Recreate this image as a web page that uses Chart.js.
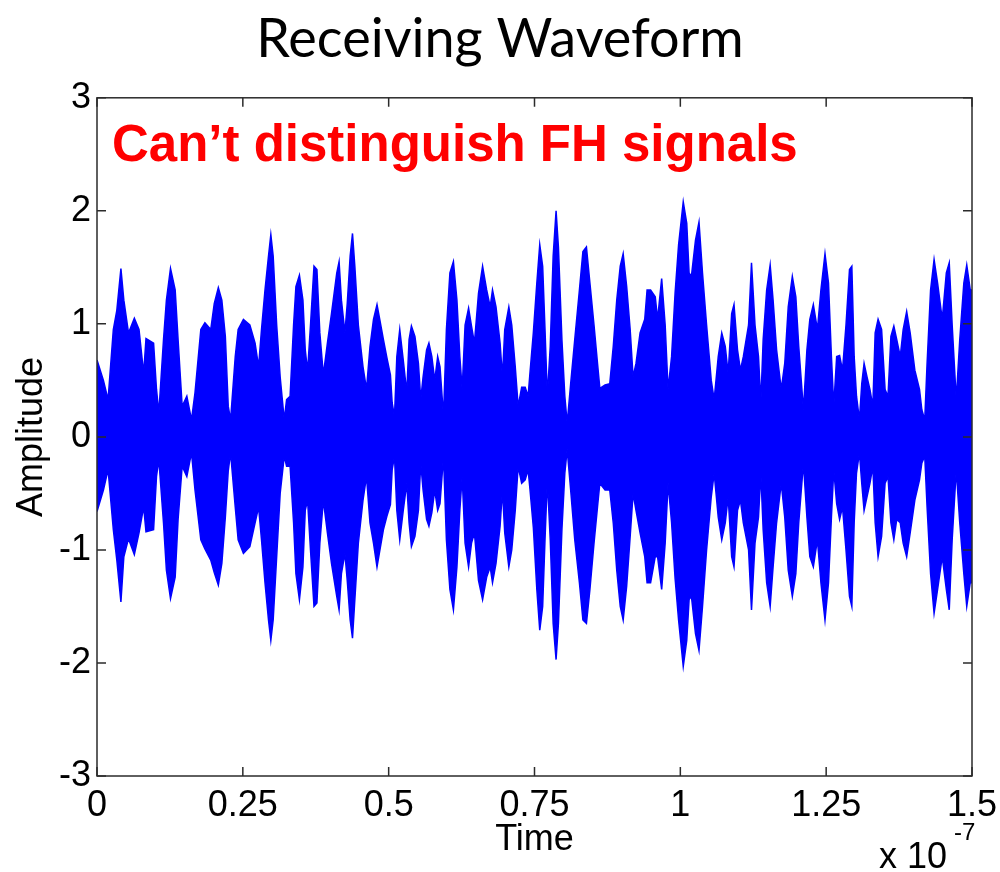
<!DOCTYPE html>
<html>
<head>
<meta charset="utf-8">
<title>Receiving Waveform</title>
<script src="https://cdn.jsdelivr.net/npm/chart.js@4/dist/chart.umd.min.js"></script>
<style>
  html, body { margin: 0; padding: 0; background: #fff; }
  canvas { display: block; }
</style>
</head>
<body>
<canvas id="wave" width="1000" height="872"></canvas>
<script>
// Time samples, in units of 1e-7 s
const timeE7 = [
  0.000,0.011,0.019,0.028,0.034,0.041,0.046,0.054,0.064,0.072,
  0.080,0.084,0.097,0.102,0.106,0.114,0.119,0.126,0.134,0.139,
  0.146,0.154,0.162,0.168,0.178,0.185,0.195,0.201,0.208,0.214,
  0.220,0.225,0.229,0.237,0.242,0.251,0.262,0.271,0.277,0.282,
  0.288,0.294,0.298,0.302,0.308,0.314,0.321,0.325,0.331,0.337,
  0.341,0.347,0.353,0.357,0.361,0.366,0.372,0.377,0.382,0.388,
  0.395,0.402,0.411,0.415,0.419,0.425,0.429,0.434,0.438,0.442,
  0.448,0.456,0.462,0.468,0.474,0.480,0.485,0.491,0.497,0.503,
  0.506,0.510,0.514,0.519,0.525,0.531,0.535,0.539,0.545,0.551,
  0.555,0.559,0.565,0.569,0.574,0.579,0.584,0.588,0.594,0.599,
  0.605,0.611,0.617,0.622,0.626,0.631,0.637,0.642,0.647,0.654,
  0.661,0.668,0.674,0.678,0.684,0.691,0.695,0.699,0.706,0.711,
  0.717,0.722,0.728,0.734,0.739,0.742,0.748,0.754,0.759,0.764,
  0.768,0.772,0.777,0.782,0.787,0.791,0.797,0.802,0.806,0.812,
  0.819,0.827,0.833,0.839,0.845,0.852,0.858,0.862,0.871,0.879,
  0.885,0.891,0.897,0.902,0.908,0.914,0.919,0.924,0.931,0.939,
  0.943,0.949,0.957,0.961,0.968,0.974,0.979,0.985,0.991,0.997,
  1.005,1.011,1.015,1.019,1.026,1.032,1.038,1.045,1.053,1.058,
  1.065,1.071,1.077,1.082,1.088,1.092,1.098,1.103,1.108,1.117,
  1.122,1.128,1.134,1.138,1.142,1.148,1.154,1.159,1.165,1.173,
  1.179,1.185,1.192,1.198,1.203,1.211,1.217,1.222,1.228,1.235,
  1.241,1.248,1.254,1.259,1.263,1.268,1.273,1.278,1.284,1.290,
  1.294,1.298,1.302,1.307,1.311,1.315,1.320,1.325,1.330,1.334,
  1.339,1.345,1.351,1.356,1.361,1.366,1.371,1.377,1.382,1.388,
  1.394,1.402,1.410,1.414,1.419,1.423,1.429,1.435,1.441,1.449,
  1.456,1.461,1.466,1.473,1.479,1.486,1.491,1.497,1.500
];

// Positive peaks of the received signal at each sample
const upperPeak = [
  0.68,0.50,0.33,0.95,1.12,1.49,1.21,0.92,1.05,0.95,
  0.56,0.87,0.83,0.42,0.21,0.86,1.21,1.49,1.30,0.86,
  0.27,0.36,0.15,0.39,0.95,1.01,0.95,1.18,1.32,1.21,
  0.89,0.27,0.15,0.71,0.95,1.04,0.99,0.83,0.62,0.95,
  1.30,1.60,1.79,1.60,0.99,0.53,0.15,0.33,0.36,0.99,
  1.33,1.43,1.21,0.77,0.58,0.99,1.51,1.48,0.92,0.55,
  0.83,1.09,1.45,1.55,1.21,0.92,1.18,1.60,1.80,1.51,
  0.99,0.62,0.42,0.80,1.04,1.17,1.03,0.86,0.70,0.55,
  0.30,0.18,0.71,0.95,0.68,0.39,0.86,0.98,0.89,0.65,
  0.33,0.53,0.77,0.83,0.71,0.50,0.71,0.62,0.18,0.95,
  1.45,1.55,1.21,0.71,0.42,0.99,1.14,0.98,0.83,1.27,
  1.51,1.30,1.15,1.30,1.15,0.83,0.53,0.95,1.15,0.99,
  0.62,0.27,0.44,0.44,0.36,0.55,0.92,1.36,1.70,1.51,
  0.95,0.36,0.80,1.60,2.00,1.68,0.86,0.36,0.12,0.47,
  0.86,1.30,1.64,1.68,1.36,0.99,0.65,0.43,0.46,0.47,
  0.80,1.21,1.51,1.62,1.33,0.95,0.53,0.65,0.92,1.04,
  1.30,1.30,1.24,1.04,1.40,0.99,0.42,0.71,1.27,1.70,
  2.08,1.89,1.45,1.42,1.74,1.90,1.45,0.99,0.50,0.33,
  0.71,0.92,0.80,0.56,1.09,1.17,0.77,0.59,0.71,0.99,
  1.54,0.99,0.71,0.30,0.86,1.30,1.52,1.21,0.77,0.42,
  0.65,1.15,1.42,1.24,0.80,0.24,0.77,1.04,1.17,0.95,
  1.30,1.62,1.36,0.71,0.27,0.71,0.72,0.59,0.99,1.48,
  1.51,0.71,0.36,0.15,0.47,0.65,0.53,0.42,0.27,0.92,
  1.04,0.95,0.42,0.36,0.89,0.98,0.86,0.71,0.95,1.11,
  0.92,0.59,0.42,0.24,0.15,0.65,1.30,1.57,1.36,1.04,
  1.45,1.54,0.99,0.33,0.86,1.36,1.52,1.30,1.30
];

// Negative peaks of the received signal at each sample
const lowerPeak = [
  -0.66,-0.47,-0.29,-0.82,-1.09,-1.46,-1.06,-0.90,-1.04,-0.85,
  -0.62,-0.84,-0.82,-0.35,-0.20,-0.76,-1.18,-1.43,-1.24,-0.73,
  -0.26,-0.35,-0.14,-0.47,-0.91,-0.99,-1.09,-1.20,-1.31,-1.12,
  -0.71,-0.30,-0.14,-0.62,-0.91,-1.03,-0.97,-0.76,-0.62,-0.91,
  -1.29,-1.62,-1.80,-1.62,-1.06,-0.50,-0.17,-0.26,-0.26,-0.76,
  -1.21,-1.44,-1.15,-0.65,-0.56,-1.00,-1.50,-1.47,-0.94,-0.56,
  -0.85,-1.12,-1.41,-1.53,-1.21,-1.03,-1.27,-1.62,-1.78,-1.44,
  -0.94,-0.56,-0.35,-0.76,-0.94,-1.15,-1.00,-0.82,-0.70,-0.60,
  -0.29,-0.17,-0.65,-0.91,-0.65,-0.41,-0.76,-0.97,-0.88,-0.65,
  -0.23,-0.47,-0.73,-0.79,-0.67,-0.47,-0.65,-0.59,-0.17,-0.91,
  -1.35,-1.53,-1.15,-0.65,-0.35,-0.94,-1.15,-0.94,-0.85,-1.27,
  -1.44,-1.24,-1.15,-1.29,-1.12,-0.79,-0.47,-0.85,-1.15,-1.00,
  -0.65,-0.26,-0.41,-0.38,-0.29,-0.45,-0.80,-1.35,-1.71,-1.50,
  -0.91,-0.38,-0.91,-1.65,-1.97,-1.65,-0.82,-0.32,-0.11,-0.47,
  -0.91,-1.29,-1.62,-1.65,-1.35,-0.94,-0.62,-0.41,-0.47,-0.47,
  -0.76,-1.18,-1.50,-1.62,-1.32,-0.88,-0.50,-0.65,-0.85,-1.06,
  -1.29,-1.29,-1.06,-1.06,-1.35,-0.94,-0.41,-0.76,-1.25,-1.62,
  -2.03,-1.80,-1.44,-1.41,-1.74,-1.89,-1.50,-1.00,-0.53,-0.32,
  -0.71,-0.91,-0.76,-0.53,-1.06,-1.15,-0.65,-0.56,-0.76,-1.00,
  -1.53,-0.94,-0.71,-0.32,-0.82,-1.29,-1.50,-1.15,-0.76,-0.41,
  -0.71,-1.18,-1.41,-1.21,-0.76,-0.23,-0.71,-1.06,-1.15,-0.91,
  -1.29,-1.62,-1.29,-0.71,-0.29,-0.59,-0.73,-0.62,-1.00,-1.41,
  -1.50,-0.76,-0.32,-0.14,-0.41,-0.65,-0.53,-0.41,-0.26,-0.76,
  -1.06,-0.88,-0.41,-0.35,-0.76,-0.91,-0.73,-0.76,-0.94,-1.06,
  -0.85,-0.56,-0.38,-0.23,-0.17,-0.62,-1.21,-1.56,-1.35,-1.06,
  -1.35,-1.53,-0.91,-0.29,-0.76,-1.21,-1.50,-1.29,-1.29
];

// Axis ticks
const xTickValues = [0, 0.25, 0.5, 0.75, 1, 1.25, 1.5];
const xTickLabels = ['0', '0.25', '0.5', '0.75', '1', '1.25', '1.5'];
const yTickValues = [-3, -2, -1, 0, 1, 2, 3];
const yTickLabels = ['-3', '-2', '-1', '0', '1', '2', '3'];

const chartTitle = 'Receiving Waveform';
const noteText = 'Can\u2019t distinguish FH signals';
const xTitle = 'Time';
const yTitle = 'Amplitude';
const xExponent = '-7';

const BLUE = '#0000ff';
const AXIS_FONT = "'Liberation Sans', Arial, sans-serif";

const toPoints = (ys) => timeE7.map((t, i) => ({ x: t, y: ys[i] }));

// Boxed axes with inward tick marks, the note and the x-axis multiplier
const framePlugin = {
  id: 'frame',
  afterDatasetsDraw(chart) {
    const { ctx, chartArea: a, scales: { x, y } } = chart;
    ctx.save();
    ctx.strokeStyle = '#2b2b2b';
    ctx.lineWidth = 1.5;
    ctx.strokeRect(a.left, a.top, a.right - a.left, a.bottom - a.top);
    const len = 9;
    ctx.beginPath();
    x.ticks.forEach(t => {
      const px = x.getPixelForValue(t.value);
      ctx.moveTo(px, a.bottom); ctx.lineTo(px, a.bottom - len);
      ctx.moveTo(px, a.top); ctx.lineTo(px, a.top + len);
    });
    y.ticks.forEach(t => {
      const py = y.getPixelForValue(t.value);
      ctx.moveTo(a.left, py); ctx.lineTo(a.left + len, py);
      ctx.moveTo(a.right, py); ctx.lineTo(a.right - len, py);
    });
    ctx.stroke();

    ctx.fillStyle = '#ff0000';
    ctx.font = "bold 51px 'Liberation Sans', Arial, sans-serif";
    ctx.textAlign = 'left';
    ctx.textBaseline = 'alphabetic';
    ctx.fillText(noteText, a.left + 15, a.top + 63);

    ctx.fillStyle = '#000';
    ctx.font = "36px 'Liberation Sans', Arial, sans-serif";
    ctx.fillText('x 10', a.right - 93, 868);
    ctx.font = "24px 'Liberation Sans', Arial, sans-serif";
    ctx.fillText(xExponent, a.right - 18, 840);
    ctx.restore();
  }
};

new Chart(document.getElementById('wave'), {
  type: 'line',
  data: {
    datasets: [
      {
        label: 'upper',
        data: toPoints(upperPeak),
        borderColor: BLUE,
        backgroundColor: BLUE,
        borderWidth: 1.5,
        pointRadius: 0,
        tension: 0,
        fill: false
      },
      {
        label: 'lower',
        data: toPoints(lowerPeak),
        borderColor: BLUE,
        backgroundColor: BLUE,
        borderWidth: 1.5,
        pointRadius: 0,
        tension: 0,
        fill: '-1'
      }
    ]
  },
  options: {
    responsive: false,
    animation: false,
    devicePixelRatio: 1,
    layout: { padding: { left: 0, right: 0, top: 0, bottom: 0 } },
    plugins: {
      legend: { display: false },
      tooltip: { enabled: false },
      title: {
        display: true,
        text: chartTitle,
        color: '#000',
        font: { family: "Lato, 'Open Sans', sans-serif", size: 54, weight: 'normal' },
        padding: { top: 7, bottom: 26 }
      }
    },
    scales: {
      x: {
        type: 'linear',
        min: 0,
        max: 1.5,
        afterBuildTicks: s => { s.ticks = xTickValues.map(v => ({ value: v })); },
        afterFit: s => { s.height = 96; s.paddingLeft = 0; s.paddingRight = 28; },
        grid: { display: false, drawTicks: false },
        border: { display: false },
        ticks: {
          color: '#000',
          font: { family: AXIS_FONT, size: 36 },
          padding: 8,
          maxRotation: 0,
          autoSkip: false,
          callback: (v, i) => xTickLabels[i]
        },
        title: {
          display: true,
          text: xTitle,
          color: '#000',
          font: { family: AXIS_FONT, size: 36 },
          padding: { top: 0, bottom: 10 }
        }
      },
      y: {
        type: 'linear',
        min: -3,
        max: 3,
        afterBuildTicks: s => { s.ticks = yTickValues.map(v => ({ value: v })); },
        afterFit: s => { s.width = 97; },
        grid: { display: false, drawTicks: false },
        border: { display: false },
        ticks: {
          color: '#000',
          font: { family: AXIS_FONT, size: 36 },
          padding: 6,
          autoSkip: false,
          callback: (v, i) => yTickLabels[i]
        },
        title: {
          display: true,
          text: yTitle,
          color: '#000',
          font: { family: AXIS_FONT, size: 36 },
          padding: { top: 10, bottom: 0 }
        }
      }
    }
  },
  plugins: [framePlugin]
});
</script>
</body>
</html>
